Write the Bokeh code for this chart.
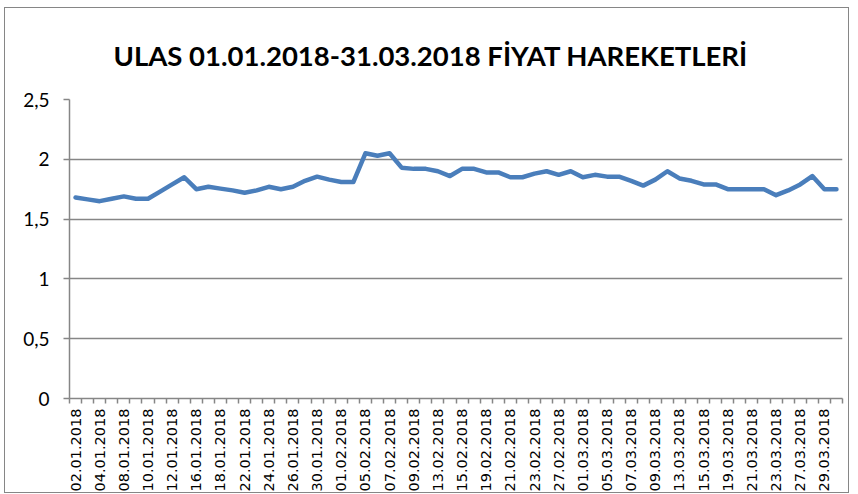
from bokeh.plotting import figure
from bokeh.models import FixedTicker, CustomJSTickFormatter, Range1d, Title, ColumnDataSource
from bokeh.embed import file_html
from bokeh.resources import INLINE
import math

dates = [
    "02.01.2018", "03.01.2018", "04.01.2018", "05.01.2018", "08.01.2018", "09.01.2018",
    "10.01.2018", "11.01.2018", "12.01.2018", "15.01.2018", "16.01.2018", "17.01.2018",
    "18.01.2018", "19.01.2018", "22.01.2018", "23.01.2018", "24.01.2018", "25.01.2018",
    "26.01.2018", "29.01.2018", "30.01.2018", "31.01.2018",
    "01.02.2018", "02.02.2018", "05.02.2018", "06.02.2018", "07.02.2018", "08.02.2018",
    "09.02.2018", "12.02.2018", "13.02.2018", "14.02.2018", "15.02.2018", "16.02.2018",
    "19.02.2018", "20.02.2018", "21.02.2018", "22.02.2018", "23.02.2018", "26.02.2018",
    "27.02.2018", "28.02.2018",
    "01.03.2018", "02.03.2018", "05.03.2018", "06.03.2018", "07.03.2018", "08.03.2018",
    "09.03.2018", "12.03.2018", "13.03.2018", "14.03.2018", "15.03.2018", "16.03.2018",
    "19.03.2018", "20.03.2018", "21.03.2018", "22.03.2018", "23.03.2018", "26.03.2018",
    "27.03.2018", "28.03.2018", "29.03.2018", "30.03.2018",
]

prices = [
    1.68, 1.665, 1.65, 1.67, 1.69, 1.67, 1.67, 1.73, 1.79, 1.85,
    1.75, 1.77, 1.755, 1.74, 1.72, 1.74, 1.77, 1.75, 1.77, 1.82,
    1.855, 1.83, 1.81, 1.81, 2.05, 2.03, 2.05, 1.93, 1.92, 1.92,
    1.90, 1.86, 1.92, 1.92, 1.89, 1.89, 1.85, 1.85, 1.88, 1.90,
    1.87, 1.90, 1.85, 1.87, 1.855, 1.855, 1.82, 1.78, 1.83, 1.90,
    1.84, 1.82, 1.79, 1.79, 1.75, 1.75, 1.75, 1.75, 1.70, 1.74,
    1.79, 1.86, 1.75, 1.75,
]

y_ticks = [0, 0.5, 1, 1.5, 2, 2.5]
title_text = "ULAS 01.01.2018-31.03.2018  FİYAT HAREKETLERİ"

n = len(dates)
xs = [i + 0.5 for i in range(n)]
source = ColumnDataSource(data=dict(x=xs, y=prices, d=dates))

p = figure(width=845, height=486, output_backend="svg", toolbar_location=None,
           x_range=Range1d(0, n), y_range=Range1d(0, 2.5),
           min_border_left=64, min_border_right=8, min_border_top=10, min_border_bottom=95)
p.styles = {"border": "1px solid #868686", "margin-left": "4px", "margin-top": "7px"}
p.outline_line_color = None
p.background_fill_color = "white"
p.border_fill_color = "white"

p.title = Title(text=title_text, align="left", text_font="Lato", text_font_style="bold",
                text_font_size="27.5px", text_color="black", offset=44, standoff=56)

p.line("x", "y", source=source, line_color="#4A7EBB", line_width=4.5, line_join="round", line_cap="round")

# y axis
p.yaxis.ticker = FixedTicker(ticks=y_ticks)
p.yaxis.formatter = CustomJSTickFormatter(code="return tick.toString().replace('.', ',');")
p.yaxis.major_label_text_font = "Lato"
p.yaxis.major_label_text_font_size = "19px"
p.yaxis.major_label_text_color = "black"
p.yaxis.axis_line_color = "#868686"
p.yaxis.axis_line_width = 1.5
p.yaxis.major_tick_line_color = "#868686"
p.yaxis.major_tick_line_width = 1.5
p.yaxis.major_tick_in = 0
p.yaxis.major_tick_out = 6
p.yaxis.minor_tick_line_color = None
p.yaxis.major_label_standoff = 14

# x axis
label_pos = [xs[i] for i in range(0, n, 2)]
p.xaxis.ticker = FixedTicker(ticks=label_pos, minor_ticks=list(range(0, n + 1)))
p.xaxis.major_label_overrides = {xs[i]: dates[i] for i in range(0, n, 2)}
p.xaxis.major_label_orientation = math.pi / 2
p.xaxis.major_label_text_font = "DejaVu Sans"
p.xaxis.major_label_text_font_size = "14.5px"
p.xaxis.major_label_text_color = "black"
p.xaxis.major_label_standoff = 5
p.xaxis.major_tick_line_color = None
p.xaxis.major_tick_out = 0
p.xaxis.major_tick_in = 0
p.xaxis.minor_tick_line_color = "#868686"
p.xaxis.minor_tick_line_width = 1.5
p.xaxis.minor_tick_in = 0
p.xaxis.minor_tick_out = 5
p.xaxis.axis_line_color = "#868686"
p.xaxis.axis_line_width = 1.5

p.xgrid.grid_line_color = None
p.ygrid.ticker = FixedTicker(ticks=y_ticks)
p.ygrid.grid_line_color = "#868686"
p.ygrid.grid_line_width = 1.5

open("out.html", "w").write(file_html(p, INLINE))
